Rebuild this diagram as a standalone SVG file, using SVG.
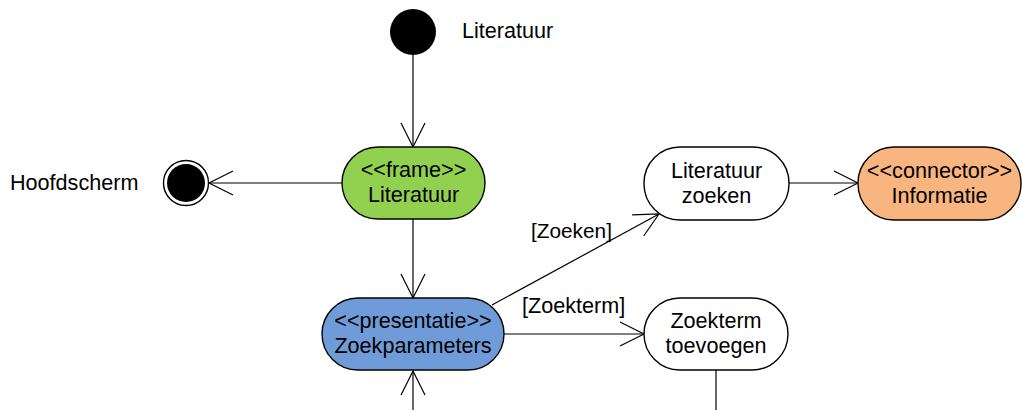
<svg xmlns="http://www.w3.org/2000/svg" width="1022" height="410" viewBox="0 0 1022 410">
<style>
  text { font-family: "Liberation Sans", Arial, sans-serif; font-size: 21.6px; fill: #000; }
  .c { text-anchor: middle; }
  .node { stroke: #000; stroke-width: 1.4; }
  .conn line { stroke: #000; stroke-width: 1.2; fill: none; }
</style>
<defs>
  <marker id="open" markerUnits="userSpaceOnUse" viewBox="-26 -14 28 28" markerWidth="28" markerHeight="28" refX="0" refY="0" orient="auto">
    <path d="M-24,-12 L0,0 L-24,12" fill="none" stroke="#000" stroke-width="1.2"/>
  </marker>
</defs>
<rect width="1022" height="410" fill="#fff"/>
<g id="connectors" class="conn">
  <line x1="413" y1="55" x2="413" y2="147" marker-end="url(#open)"/>
  <line x1="342" y1="183" x2="209" y2="183" marker-end="url(#open)"/>
  <line x1="413" y1="219" x2="413" y2="298" marker-end="url(#open)"/>
  <line x1="413" y1="410" x2="413" y2="371" marker-end="url(#open)"/>
  <line x1="492" y1="305" x2="659" y2="214" marker-end="url(#open)"/>
  <line x1="504" y1="334" x2="644" y2="334" marker-end="url(#open)"/>
  <line x1="789" y1="183" x2="858" y2="183" marker-end="url(#open)"/>
  <line x1="716" y1="370" x2="716" y2="410"/>
  <text x="531" y="238" style="font-size:20.8px">[Zoeken]</text>
  <text x="522" y="313">[Zoekterm]</text>
</g>
<g id="initial">
  <circle cx="413" cy="32" r="23" fill="#000"/>
  <text x="462" y="38">Literatuur</text>
</g>
<g id="final">
  <circle cx="186" cy="183" r="22.5" fill="#fff" stroke="#000" stroke-width="1.4"/>
  <circle cx="186" cy="183" r="19" fill="#000"/>
  <text x="10" y="190">Hoofdscherm</text>
</g>
<g id="frame-literatuur">
  <rect class="node" x="342" y="147" width="143" height="72" rx="36" ry="36" fill="#92D050"/>
  <text class="c" x="413.5" y="177">&lt;&lt;frame&gt;&gt;</text>
  <text class="c" x="413.5" y="202">Literatuur</text>
</g>
<g id="zoekparameters">
  <rect class="node" x="322" y="298" width="182" height="72" rx="36" ry="36" fill="#6F9BD9"/>
  <text class="c" x="413" y="328">&lt;&lt;presentatie&gt;&gt;</text>
  <text class="c" x="413" y="353">Zoekparameters</text>
</g>
<g id="literatuur-zoeken">
  <rect class="node" x="644" y="147" width="145" height="73" rx="36" ry="36" fill="#fff"/>
  <text class="c" x="716.5" y="178">Literatuur</text>
  <text class="c" x="716.5" y="203">zoeken</text>
</g>
<g id="connector-informatie">
  <rect class="node" x="858" y="147" width="163" height="73" rx="36" ry="36" fill="#F9B57F"/>
  <text class="c" x="939.5" y="178">&lt;&lt;connector&gt;&gt;</text>
  <text class="c" x="939.5" y="203">Informatie</text>
</g>
<g id="zoekterm-toevoegen">
  <rect class="node" x="644" y="298" width="144" height="72" rx="36" ry="36" fill="#fff"/>
  <text class="c" x="716" y="328">Zoekterm</text>
  <text class="c" x="716" y="353">toevoegen</text>
</g>
</svg>
